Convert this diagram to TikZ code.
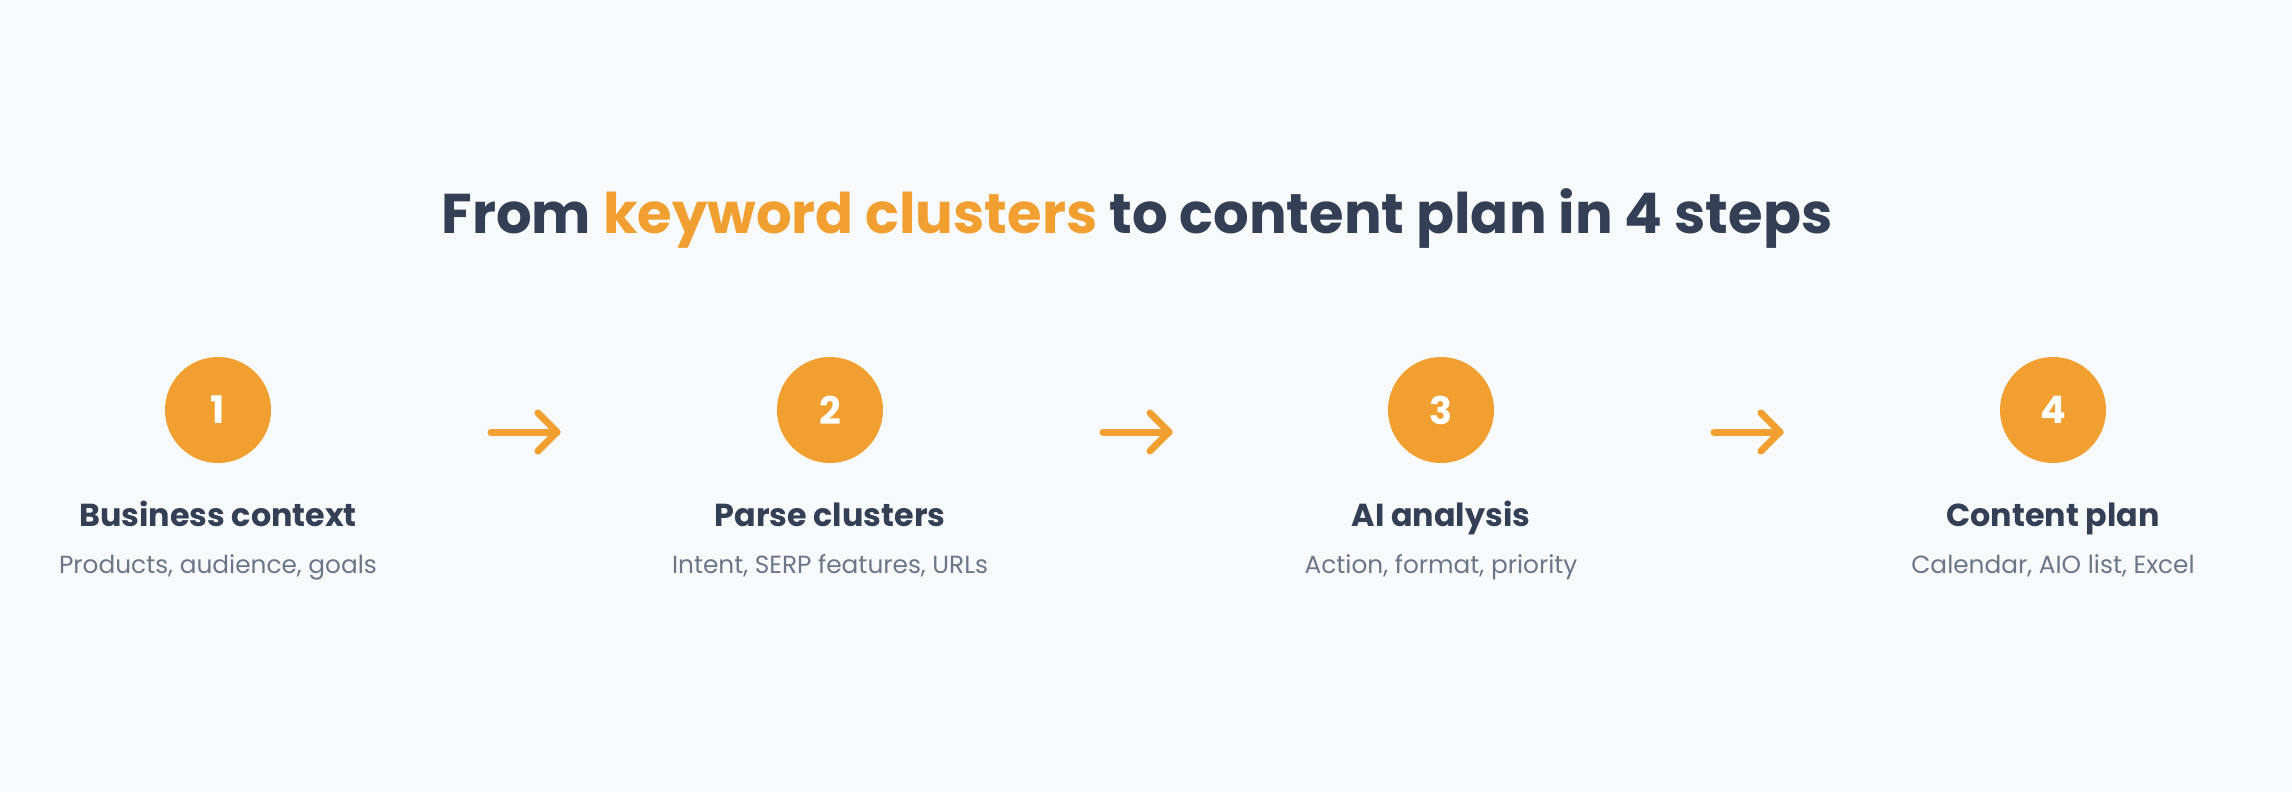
\documentclass[tikz,border=0pt]{standalone}
\usepackage{fontspec}
\setmainfont{Poppins}
\definecolor{bgc}{HTML}{F8F9FB}
\definecolor{orangec}{HTML}{F09F30}
\definecolor{darkc}{HTML}{333F55}
\definecolor{grayc}{HTML}{6B7789}
\begin{document}
\begin{tikzpicture}[x=1pt,y=-1pt,
  stepcircle/.style={circle, fill=orangec, minimum size=106pt, inner sep=0pt, text=white, font=\fontsize{38}{40}\selectfont\bfseries},
  steptitle/.style={anchor=base, text=darkc, font=\fontsize{31.8}{36}\selectfont\bfseries},
  stepsub/.style={anchor=base, text=grayc, font=\fontsize{24.8}{28}\selectfont},
  flowarrow/.style={draw=orangec, line width=7pt, line cap=round, line join=round}]
\fill[bgc] (0,0) rectangle (2292,792);
\useasboundingbox (0,0) rectangle (2292,792);
\node[anchor=base, text=darkc, font=\fontsize{56}{62}\selectfont\bfseries] (title) at (1137,233) {From \textcolor{orangec}{keyword clusters} to content plan in 4 steps};
\foreach \i/\x/\h/\s in {1/218/Business context/{Products, audience, goals},
                          2/830/Parse clusters/{Intent, SERP features, URLs},
                          3/1441/AI analysis/{Action, format, priority},
                          4/2053/Content plan/{Calendar, AIO list, Excel}}{
  \node[stepcircle] (c\i) at (\x,410) {\i};
  \node[steptitle] (h\i) at (\x,526) {\h};
  \node[stepsub] (s\i) at (\x,573) {\s};
}
\foreach \i/\x in {1/524,2/1136,3/1747}{
  \coordinate (a\i s) at (\x-33,432);
  \coordinate (a\i e) at (\x+33,432);
  \draw[flowarrow] (a\i s) -- (a\i e);
  \draw[flowarrow] ([shift={(-19,-19)}]a\i e) -- (a\i e) -- ([shift={(-19,19)}]a\i e);
}
\end{tikzpicture}
\end{document}
